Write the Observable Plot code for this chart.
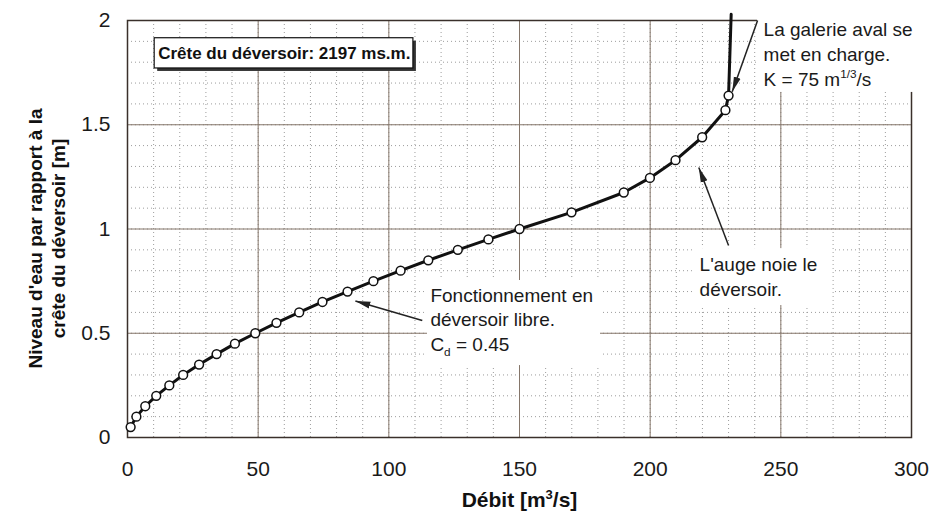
<!DOCTYPE html>
<html><head><meta charset="utf-8">
<script src="https://cdn.jsdelivr.net/npm/d3@7"></script>
<script src="https://cdn.jsdelivr.net/npm/@observablehq/plot@0.6"></script>
<style>
html,body{margin:0;padding:0;background:#fff;}
</style>
</head><body><div id="chart"></div>
<script>
// Data (débit in m3/s, niveau in m)
const debit  = [1.2, 3.4, 6.8, 11.0, 16.0, 21.3, 27.4, 34.1, 41.1, 48.9, 57.0, 65.7, 74.6, 84.2, 94.1, 104.5, 115.1, 126.4, 138.1, 150.0, 169.9, 189.9, 199.9, 209.7, 219.9, 228.8, 230.0];
const niveau = [0.05, 0.10, 0.15, 0.20, 0.25, 0.30, 0.35, 0.40, 0.45, 0.50, 0.55, 0.60, 0.65, 0.70, 0.75, 0.80, 0.85, 0.90, 0.95, 1.00, 1.08, 1.175, 1.245, 1.33, 1.44, 1.57, 1.64];
// vertical tail of the curve (gallery under pressure)
const tailDebit  = [231.0];
const tailNiveau = [2.03];

const xTicks = [0, 50, 100, 150, 200, 250, 300];
const yTicks = [0, 0.5, 1, 1.5, 2];
const xMinor = d3.range(0, 301, 10);
const yMinor = d3.range(0, 2.001, 0.1);

const xTitle = "Débit [m^{3}/s]";
const yTitle = {text: "Niveau d'eau par rapport à la\ncrête du déversoir [m]", x: 0, y: 1};

// Annotations (data coordinates)
const crest = {text: "Crête du déversoir: 2197 ms.m.", x: 60, y: 1.842, x1: 10.4, x2: 109.4, y1: 1.770, y2: 1.915};
const notes = [
  {text: "La galerie aval se\nmet en charge.\nK = 75 m^{1/3}/s", x: 243.4, y: 1.844, x1: 241.1, x2: 306.1, y1: 1.655, y2: 2.067},
  {text: "Fonctionnement en\ndéversoir libre.\nC_{d} = 0.45", x: 115.9, y: 0.571, x1: 114.8, x2: 181.0, y1: 0.345, y2: 0.753},
  {text: "L'auge noie le\ndéversoir.", x: 218.9, y: 0.777, x1: 217.0, x2: 269.8, y1: 0.633, y2: 0.906}
];
const arrows = [
  {x1: 241.1, y1: 2.0, x2: 231.4, y2: 1.658},
  {x1: 230.0, y1: 0.921, x2: 218.6, y2: 1.295},
  {x1: 112.8, y1: 0.561, x2: 87.2, y2: 0.655}
];

const points = debit.map((d, i) => ({q: d, h: niveau[i]}));
const linePts = points.concat(tailDebit.map((d, i) => ({q: d, h: tailNiveau[i]})));

const chart = Plot.plot({
  width: 941, height: 516,
  marginLeft: 127, marginRight: 30, marginTop: 20, marginBottom: 79,
  x: {domain: [0, 300]},
  y: {domain: [0, 2]},
  style: {fontFamily: "'Liberation Sans', Arial, sans-serif", background: "#fff", color: "#1a1a1a"},
  marks: [
    Plot.gridX(xMinor, {stroke: "#9c9c9c", strokeOpacity: 1, strokeDasharray: "1,3", strokeWidth: 1}),
    Plot.gridY(yMinor, {stroke: "#9c9c9c", strokeOpacity: 1, strokeDasharray: "1,3", strokeWidth: 1}),
    Plot.gridX(xTicks, {stroke: "#85766a", strokeOpacity: 1, strokeWidth: 1}),
    Plot.gridY(yTicks, {stroke: "#85766a", strokeOpacity: 1, strokeWidth: 1}),
    Plot.frame({stroke: "#3a302b", strokeWidth: 1.5}),
    Plot.axisX(xTicks, {tickSize: 0, tickPadding: 24, fontSize: 21, label: null, tickFormat: d => String(d)}),
    Plot.axisY(yTicks, {tickSize: 0, tickPadding: 17, fontSize: 21, label: null, tickFormat: d => String(d)}),
    // annotation backgrounds
    Plot.rect(notes, {x1: "x1", x2: "x2", y1: "y1", y2: "y2", fill: "white"}),
    Plot.rect([crest], {x1: "x1", x2: "x2", y1: "y1", y2: "y2", fill: "#333", dx: 3, dy: 3}),
    Plot.rect([crest], {x1: "x1", x2: "x2", y1: "y1", y2: "y2", fill: "white", stroke: "#111", strokeWidth: 1.2}),
    Plot.link(arrows, {x1: "x1", y1: "y1", x2: "x2", y2: "y2", stroke: "#222", strokeWidth: 1.5}),
    // curve
    Plot.line(linePts, {x: "q", y: "h", stroke: "#111", strokeWidth: 3}),
    Plot.dot(points, {x: "q", y: "h", r: 4.4, fill: "white", stroke: "#111", strokeWidth: 1.5}),
    // texts
    Plot.text(notes, {x: "x", y: "y", text: "text", textAnchor: "start", lineAnchor: "middle", fontSize: 19, lineHeight: 1.3, fill: "#1a1a1a"}),
    Plot.text([crest], {x: "x", y: "y", text: "text", textAnchor: "middle", lineAnchor: "middle", fontSize: 17, fontWeight: "bold", fill: "#111"}),
    Plot.text([xTitle], {text: d => d, frameAnchor: "bottom", lineAnchor: "middle", dy: 63, fontSize: 21, fontWeight: "bold", fill: "#111"}),
    Plot.text([yTitle], {x: "x", y: "y", text: "text", rotate: -90, textAnchor: "middle", lineAnchor: "middle", dx: -81, dy: 9.5, fontSize: 19, fontWeight: "bold", lineHeight: 1.2, fill: "#111"})
  ]
});

document.getElementById("chart").appendChild(chart);

// arrowheads
const ns = "http://www.w3.org/2000/svg";
const svg = d3.select(chart);
const defs = svg.insert("defs", ":first-child");
defs.append("marker")
  .attr("id", "ahead").attr("viewBox", "-15 -5 15 10").attr("refX", 0).attr("refY", 0)
  .attr("markerWidth", 15).attr("markerHeight", 10).attr("markerUnits", "userSpaceOnUse").attr("orient", "auto")
  .append("path").attr("d", "M-15,-3.5L0,0L-15,3.5Z").attr("fill", "#222");
svg.selectAll('g[aria-label="link"] path').attr("marker-end", "url(#ahead)");

// superscripts / subscripts
function richify(root) {
  const els = Array.from(root.querySelectorAll("text, tspan"))
    .filter(e => e.children.length === 0 && /[\^_]\{/.test(e.textContent));
  for (const el of els) {
    const s = el.textContent;
    el.textContent = "";
    const re = /([\^_])\{([^}]*)\}/g;
    let last = 0, m;
    while ((m = re.exec(s))) {
      if (m.index > last) el.appendChild(document.createTextNode(s.slice(last, m.index)));
      const shift = m[1] === "^" ? -8 : 5;
      const t = document.createElementNS(ns, "tspan");
      t.setAttribute("dy", shift);
      t.setAttribute("font-size", "0.62em");
      t.textContent = m[2];
      el.appendChild(t);
      const b = document.createElementNS(ns, "tspan");
      b.setAttribute("dy", -shift);
      last = re.lastIndex;
      const nextIdx = s.slice(last).search(/[\^_]\{/);
      const rest = nextIdx < 0 ? s.slice(last) : s.slice(last, last + nextIdx);
      b.textContent = rest.length ? rest : "\u200B";
      el.appendChild(b);
      last += rest.length;
      re.lastIndex = last;
    }
    if (last < s.length) el.appendChild(document.createTextNode(s.slice(last)));
  }
}
richify(chart);
</script>
</body></html>
